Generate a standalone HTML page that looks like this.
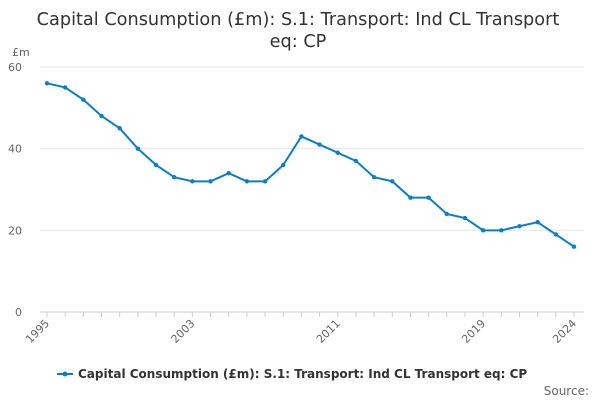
<!DOCTYPE html>
<html><head><meta charset="utf-8"><style>
body{margin:0;background:#fff;font-family:"Liberation Sans","DejaVu Sans",sans-serif;}
svg text{font-family:"DejaVu Sans","Liberation Sans",sans-serif;}
</style></head><body>
<svg id="chart" width="600" height="400" xmlns="http://www.w3.org/2000/svg">
<text x="298" y="25" text-anchor="middle" font-size="17.7" fill="#333">Capital Consumption (£m): S.1: Transport: Ind CL Transport</text>
<text x="298" y="47" text-anchor="middle" font-size="17.7" fill="#333">eq: CP</text>
<text x="12" y="56" font-size="11" fill="#666">£m</text>
<g id="grid"></g><g id="xaxis"></g><g id="series"></g>
<g>
<line x1="57" y1="374" x2="73" y2="374" stroke="#0e7dc2" stroke-width="2"/>
<circle cx="65" cy="374" r="2.5" fill="#0e7dc2"/>
<text x="78" y="378" font-size="12" font-weight="bold" fill="#333">Capital Consumption (£m): S.1: Transport: Ind CL Transport eq: CP</text>
</g>
<text x="589" y="395" text-anchor="end" font-size="12" fill="#666">Source:</text>
</svg>
<script>
const years=[1995,1996,1997,1998,1999,2000,2001,2002,2003,2004,2005,2006,2007,2008,2009,2010,2011,2012,2013,2014,2015,2016,2017,2018,2019,2020,2021,2022,2023,2024];
const values=[56,55,52,48,45,40,36,33,32,32,34,32,32,36,43,41,39,37,33,32,28,28,24,23,20,20,21,22,19,16];
const yTicks=[0,20,40,60];
const xTickLabels=[1995,2003,2011,2019,2024];
const NS="http://www.w3.org/2000/svg";
const x=v=>47+(v-1995)*(574-47)/(2024-1995);
const y=v=>312-v*(312-67)/60;
function mk(t,a,p){const e=document.createElementNS(NS,t);for(const k in a)e.setAttribute(k,a[k]);p.appendChild(e);return e;}
const grid=document.getElementById('grid');
yTicks.forEach(t=>{
 const l=mk('line',{x1:40,x2:584,y1:y(t),y2:y(t),stroke:t===0?'#ccc':'#e6e6e6','stroke-width':1},grid);
 
 
 const tx=mk('text',{x:22,y:y(t)+4,'text-anchor':'end','font-size':11,fill:'#666'},grid);
 tx.textContent=t;
 
 
});
const xa=document.getElementById('xaxis');
years.forEach(yr=>{
 const l=mk('line',{x1:x(yr),x2:x(yr),y1:312,y2:317,stroke:'#ccc'},xa);
 
 
});
xTickLabels.forEach(yr=>{
 const tx=mk('text',{x:x(yr)+3,y:324,'text-anchor':'end','font-size':11,fill:'#666',transform:`rotate(-45 ${x(yr)+3} 324)`},xa);
 tx.textContent=yr;
 
 
});
const s=document.getElementById('series');
const path=mk('path',{d:years.map((yr,i)=>(i?'L':'M')+x(yr)+' '+y(values[i])).join(''),fill:'none',stroke:'#0e7dc2','stroke-width':2},s);


years.forEach((yr,i)=>{
 const c=mk('circle',{cx:x(yr),cy:y(values[i]),r:2.2,fill:'#0e7dc2'},s);
 
 
});
</script>
</body></html>
